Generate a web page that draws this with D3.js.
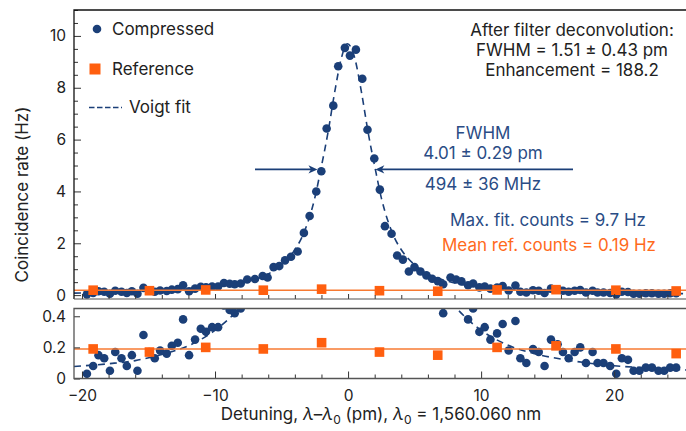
<!DOCTYPE html>
<html>
<head>
<meta charset="utf-8">
<script src="https://cdn.jsdelivr.net/npm/d3@7"></script>
<style>
body { margin: 0; background: #fff; }
svg { font-family: Inter, "Noto Sans", sans-serif; }
</style>
</head>
<body>
<svg id="chart" width="686" height="431"></svg>
<script>
// compressed source counts (Hz) vs detuning (pm)
const compX = [-19.63,-19.16,-18.76,-18.33,-17.90,-17.50,-17.03,-16.63,-16.25,-15.83,
  -15.38,-14.95,-14.53,-14.13,-13.63,-13.25,-12.80,-12.40,-11.95,-11.50,
  -11.07,-10.68,-10.22,-9.77,-9.33,-8.90,-8.52,-8.07,-7.58,-7.00,
  -6.42,-6.05,-5.60,-5.17,-4.74,-4.29,-3.79,-3.32,-2.89,-2.39,
  -2.01,-1.61,-1.11,-0.74,-0.24,0.14,0.59,1.07,1.46,1.97,
  2.39,2.77,3.27,3.69,4.12,4.57,4.99,5.44,5.89,6.32,
  6.74,7.15,7.70,8.12,8.52,9.02,9.40,9.87,10.27,10.70,
  11.20,11.62,12.07,12.58,12.95,13.40,13.90,14.33,14.77,15.25,
  15.75,16.15,16.58,17.03,17.45,17.88,18.38,18.75,19.20,19.70,
  20.16,20.58,21.04,21.46,21.90,22.38,22.84,23.33,23.76,24.21,24.66];
const compY = [0.03,0.08,0.15,0.13,0.05,0.17,0.13,0.08,0.15,0.05,
  0.28,0.17,0.13,0.18,0.16,0.21,0.23,0.38,0.15,0.25,
  0.32,0.30,0.33,0.33,0.47,0.44,0.42,0.45,0.60,0.62,
  0.74,0.68,1.08,1.12,1.34,1.48,1.68,2.40,3.05,4.00,
  4.78,6.43,7.31,8.83,9.54,9.24,9.47,8.35,6.38,5.27,
  4.07,2.66,2.37,1.53,1.37,0.91,1.08,0.91,0.76,0.63,
  0.54,0.42,0.68,0.60,0.53,0.38,0.45,0.30,0.33,0.25,
  0.29,0.35,0.18,0.37,0.13,0.10,0.19,0.17,0.08,0.25,
  0.22,0.17,0.13,0.17,0.20,0.10,0.17,0.10,0.10,0.08,
  0.03,0.13,0.12,0.05,0.05,0.07,0.07,0.05,0.05,0.07,0.07];

// reference (uncompressed) counts
const refX = [-19.16,-14.93,-10.70,-6.37,-1.99,2.36,6.74,11.20,15.63,20.13,24.66];
const refY = [0.19,0.17,0.20,0.19,0.23,0.17,0.15,0.20,0.21,0.19,0.16];
const refMean = 0.19;

// Voigt fit
const fitX = [-20.6,-18,-16,-14,-12,-10,-9,-8,-7,-6,-5,-4.5,-4,-3.5,-3,-2.5,-2.05,-1.5,-1,-0.5,-0.05,
  0.5,1,1.5,2.05,2.5,3,3.5,4,4.5,5,6,7,8,9,10,12,14,16,18,20,22,24,25.4];
const fitY = [0.077,0.095,0.115,0.155,0.21,0.31,0.38,0.47,0.61,0.82,1.17,1.42,1.75,2.2,2.85,3.75,4.85,6.3,7.85,9.15,9.7,
  9.15,7.85,6.3,4.85,3.75,2.85,2.2,1.75,1.42,1.17,0.82,0.61,0.47,0.38,0.31,0.215,0.16,0.125,0.10,0.082,0.07,0.06,0.055];

const fwhmLeft = -2.3, fwhmRight = 2.05, halfMax = 4.85;

const topYMajor = [0, 2, 4, 6, 8, 10];
const botYMajor = [0, 0.2, 0.4];
const xMajor = [-20, -10, 0, 10, 20];

const blue = "#1b3f78", blueText = "#2a4c85", orange = "#ff5f0f", orangeLine = "#f77a32", orangeText = "#ff6a1c";
const fs = "17px";

const svg = d3.select("#chart");

const x = d3.scaleLinear().domain([-20.6, 25.4]).range([74, 686]);
const yTop = d3.scaleLinear().domain([-0.15, 11.0]).range([299, 10]);
const yBot = d3.scaleLinear().domain([0, 0.45]).range([378.5, 308.5]);

const defs = svg.append("defs");
defs.append("clipPath").attr("id", "clipTop").append("rect")
  .attr("x", 74).attr("y", 10).attr("width", 612).attr("height", 289);
defs.append("clipPath").attr("id", "clipBot").append("rect")
  .attr("x", 74).attr("y", 308.5).attr("width", 612).attr("height", 70);

const comp = compX.map((d, i) => ({x: d, y: compY[i]}));
const ref = refX.map((d, i) => ({x: d, y: refY[i]}));
const fit = fitX.map((d, i) => ({x: d, y: fitY[i]}));

function drawPanel(y, clipId) {
  const g = svg.append("g").attr("clip-path", `url(#${clipId})`);
  g.selectAll("circle").data(comp).join("circle")
    .attr("cx", d => x(d.x)).attr("cy", d => y(d.y)).attr("r", 4.3)
    .attr("fill", blue);
  const line = d3.line().x(d => x(d.x)).y(d => y(d.y)).curve(d3.curveMonotoneX);
  g.append("path").datum(fit).attr("d", line)
    .attr("fill", "none").attr("stroke", blue).attr("stroke-width", 1.6)
    .attr("stroke-dasharray", "7,5");
  g.append("line").attr("x1", 74).attr("x2", 686)
    .attr("y1", y(refMean)).attr("y2", y(refMean))
    .attr("stroke", orangeLine).attr("stroke-width", 1.6);
  g.selectAll("rect.ref").data(ref).join("rect").attr("class", "ref")
    .attr("x", d => x(d.x) - 4.8).attr("y", d => y(d.y) - 4.8)
    .attr("width", 9.6).attr("height", 9.6).attr("fill", orange);
}
drawPanel(yTop, "clipTop");
drawPanel(yBot, "clipBot");

// axes
function styleAxis(g) {
  g.select(".domain").remove();
  g.selectAll("line").attr("stroke", "#333");
  g.selectAll("text").attr("fill", "#222").style("font-size", "15.5px").style("font-family", "Inter, sans-serif");
}
const topMinorY = d3.range(0, 11.01, 0.5).filter(d => d % 2 !== 0);
svg.append("g").attr("transform", "translate(74,0)")
  .call(d3.axisLeft(yTop).tickValues(topMinorY).tickSize(-4).tickFormat(""))
  .call(styleAxis);
svg.append("g").attr("transform", "translate(74,0)")
  .call(d3.axisLeft(yTop).tickValues(topYMajor).tickSize(-7).tickPadding(8))
  .call(styleAxis);

const xMinor = d3.range(-20, 25.1, 2).filter(d => d % 10 !== 0);
[299, 378.5].forEach((yy, i) => {
  svg.append("g").attr("transform", `translate(0,${yy})`)
    .call(d3.axisBottom(x).tickValues(xMinor).tickSize(-4).tickFormat(""))
    .call(styleAxis);
  svg.append("g").attr("transform", `translate(0,${yy})`)
    .call(d3.axisBottom(x).tickValues(xMajor).tickSize(i ? -7 : -5).tickPadding(11)
      .tickFormat(i ? d3.format("d") : ""))
    .call(styleAxis);
});
svg.append("g").attr("transform", "translate(74,0)")
  .call(d3.axisLeft(yBot).tickValues(botYMajor).tickSize(-6).tickPadding(8)
    .tickFormat(d => d === 0 ? "0" : d3.format(".1f")(d)))
  .call(styleAxis);

// frames
svg.append("path").attr("d", "M74,299 V10 H686").attr("fill", "none").attr("stroke", "#111").attr("stroke-width", 1.3);
svg.append("line").attr("x1", 74).attr("x2", 686).attr("y1", 299).attr("y2", 299).attr("stroke", "#555").attr("stroke-width", 1.2);
svg.append("path").attr("d", "M686,308.5 H74 V378.5 H686").attr("fill", "none").attr("stroke", "#555").attr("stroke-width", 1.3);

// axis titles
const xt = svg.append("text").attr("x", 381).attr("y", 420).attr("text-anchor", "middle")
  .attr("fill", "#222").style("font-size", fs);
xt.append("tspan").text("Detuning, ");
xt.append("tspan").attr("font-style", "italic").text("λ");
xt.append("tspan").text("–");
xt.append("tspan").attr("font-style", "italic").text("λ");
xt.append("tspan").attr("dy", 4).style("font-size", "12px").text("0");
xt.append("tspan").attr("dy", -4).text(" (pm), ");
xt.append("tspan").attr("font-style", "italic").text("λ");
xt.append("tspan").attr("dy", 4).style("font-size", "12px").text("0");
xt.append("tspan").attr("dy", -4).text(" = 1,560.060 nm");

svg.append("text").attr("transform", "translate(28,194.5) rotate(-90)")
  .attr("text-anchor", "middle").attr("fill", "#222").style("font-size", fs)
  .text("Coincidence rate (Hz)");

// legend
svg.append("circle").attr("cx", 97).attr("cy", 29).attr("r", 4.3).attr("fill", blue);
svg.append("text").attr("x", 112).attr("y", 35).attr("fill", "#222").style("font-size", fs).text("Compressed");
svg.append("rect").attr("x", 89.5).attr("y", 63.5).attr("width", 11).attr("height", 11).attr("fill", orange);
svg.append("text").attr("x", 112).attr("y", 75).attr("fill", "#222").style("font-size", fs).text("Reference");
svg.append("line").attr("x1", 89).attr("x2", 122).attr("y1", 107.5).attr("y2", 107.5)
  .attr("stroke", blue).attr("stroke-width", 1.6).attr("stroke-dasharray", "5.5,2.5");
svg.append("text").attr("x", 129).attr("y", 112.5).attr("fill", "#222").style("font-size", fs).text("Voigt fit");

// top-right annotation
const ann = ["After filter deconvolution:", "FWHM = 1.51 ± 0.43 pm", "Enhancement = 188.2"];
ann.forEach((t, i) => svg.append("text").attr("x", 572).attr("y", 35.5 + i * 20)
  .attr("text-anchor", "middle").attr("fill", "#222").style("font-size", fs).text(t));

// FWHM arrows
const ya = yTop(halfMax);
function arrow(x1, tip, dir) {
  svg.append("line").attr("x1", x1).attr("x2", tip - dir * 4).attr("y1", ya).attr("y2", ya)
    .attr("stroke", blue).attr("stroke-width", 1.8);
  svg.append("path")
    .attr("d", `M${tip},${ya} L${tip - dir * 9},${ya - 4.2} L${tip - dir * 6.5},${ya} L${tip - dir * 9},${ya + 4.2} Z`)
    .attr("fill", blue);
}
arrow(255, x(fwhmLeft), 1);
arrow(573, x(fwhmRight), -1);

const blueLines = [["FWHM", 139], ["4.01 ± 0.29 pm", 159], ["494 ± 36 MHz", 190]];
blueLines.forEach(([t, yy]) => svg.append("text").attr("x", 483).attr("y", yy)
  .attr("text-anchor", "middle").attr("fill", blueText).style("font-size", fs).text(t));

svg.append("text").attr("x", 548).attr("y", 226).attr("text-anchor", "middle")
  .attr("fill", blueText).style("font-size", fs).text("Max. fit. counts = 9.7 Hz");
svg.append("text").attr("x", 549).attr("y", 251).attr("text-anchor", "middle")
  .attr("fill", orangeText).style("font-size", fs).text("Mean ref. counts = 0.19 Hz");
</script>
</body>
</html>
